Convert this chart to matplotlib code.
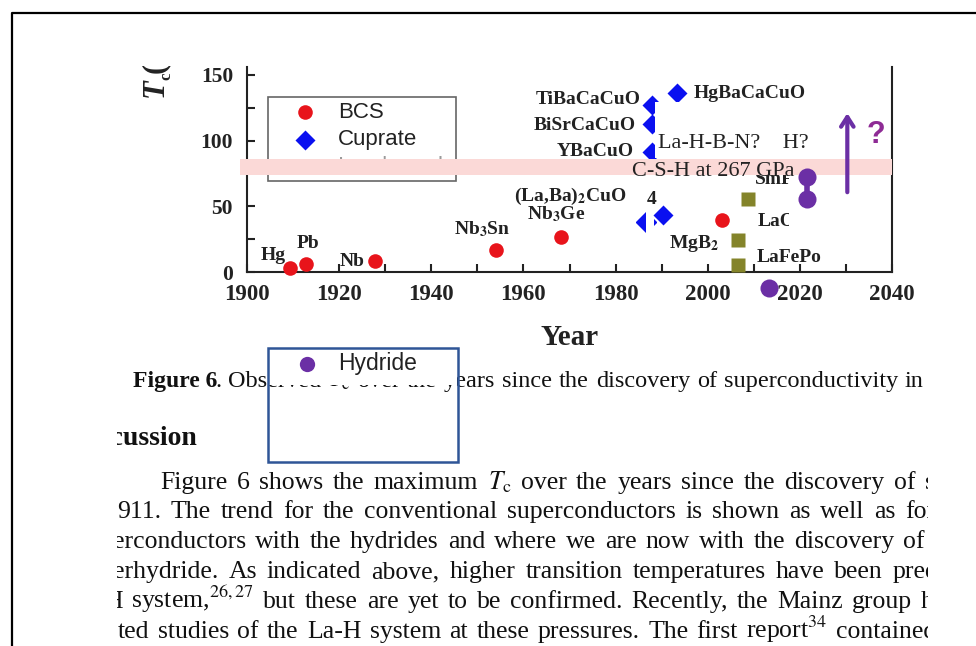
import matplotlib.pyplot as plt
from matplotlib.patches import Rectangle
from matplotlib.lines import Line2D
from matplotlib.transforms import Affine2D
from matplotlib.font_manager import FontProperties
import matplotlib.ticker as mticker

plt.rcParams['font.family'] = 'Liberation Serif'
plt.rcParams['mathtext.fontset'] = 'stix'

W, H = 976, 646

# values (year, Tc in K)
bcs_year = [1909.3, 1912.8, 1927.7, 1954.0, 1968.1, 2003.0]
bcs_tc = [3.0, 6.0, 8.4, 16.8, 26.7, 39.6]

cuprate_year = [1988.0, 1988.0, 1988.0, 1990.2, 1993.4]
cuprate_tc = [91.4, 112.7, 127.2, 43.4, 136.3]
cuprate_hidden_year = [1986.5]
cuprate_hidden_tc = [38.0]

iron_year = [2006.6, 2006.6, 2008.8]
iron_tc = [5.3, 24.4, 55.6]

hydride_year = [2013.4, 2021.6, 2021.6]
hydride_tc = [-12.0, 55.6, 72.0]

arrow_year = 2030.3
arrow_tc = (58.6, 123.0)

x_ticks = [1900, 1920, 1940, 1960, 1980, 2000, 2020, 2040]
y_ticks = [0, 50, 100, 150]

RED = '#e8141b'
BLUE = '#0a10f0'
OLIVE = '#84842a'
PURPLE = '#6b2fa5'
INK = '#222222'

fig = plt.figure(figsize=(W / 100, H / 100), dpi=100)
P = Affine2D().scale(1 / W, -1 / H).translate(0, 1) + fig.transFigure

ax = fig.add_axes([247 / W, 1 - 272 / H, (892 - 247) / W, (272 - 67) / H])
ax.set_xlim(1900, 2040)
ax.set_ylim(0, 156)
ax.spines['top'].set_visible(False)
for s in ['left', 'bottom', 'right']:
    ax.spines[s].set_linewidth(1.5)
    ax.spines[s].set_color(INK)
ax.set_xticks(x_ticks)
ax.set_yticks(y_ticks)
ax.xaxis.set_minor_locator(mticker.MultipleLocator(10))
ax.yaxis.set_minor_locator(mticker.MultipleLocator(25))
ax.tick_params(which='both', direction='in', length=6, width=1.5, color=INK)
ax.tick_params(axis='x', which='major', labelsize=16.5, pad=9)
ax.tick_params(axis='y', which='major', labelsize=15.5, pad=10)
for lab in ax.get_xticklabels() + ax.get_yticklabels():
    lab.set_fontweight('bold')
    lab.set_color(INK)
ax.set_xlabel('Year', fontsize=21, fontweight='bold', labelpad=13, color=INK)

# markers
ax.plot(cuprate_hidden_year, cuprate_hidden_tc, 'D', color=BLUE, ms=10, zorder=3, clip_on=False)
ax.plot(bcs_year, bcs_tc, 'o', color=RED, ms=10.5, mec='none', zorder=5, clip_on=False)
ax.plot(cuprate_year, cuprate_tc, 'D', color=BLUE, ms=10, mec='none', zorder=5, clip_on=False)
ax.plot(iron_year, iron_tc, 's', color=OLIVE, ms=10, mec='none', zorder=5, clip_on=False)
ax.plot(hydride_year[1:], hydride_tc[1:], '-', color=PURPLE, lw=4, zorder=9)
ax.plot(hydride_year, hydride_tc, 'o', color=PURPLE, ms=13, mec='none', zorder=9, clip_on=False)
ax.annotate('', xy=(arrow_year, arrow_tc[1]), xytext=(arrow_year, arrow_tc[0]),
            arrowprops=dict(arrowstyle='->,head_length=0.7,head_width=0.45', color=PURPLE, lw=3),
            zorder=9)


def lbl(x, y, s, size=14, ha='left', weight='bold', z=5, color=INK, **kw):
    ax.text(x, y, s, transform=P, fontsize=size, ha=ha, va='center', fontweight=weight,
            color=color, zorder=z, clip_on=False, **kw)


lbl(261, 256, 'Hg')
lbl(297, 244, 'Pb')
lbl(340, 261, 'Nb')
lbl(454, 229, r'Nb$_\mathbf{3}$Sn')
lbl(514, 196, r'(La,Ba)$_\mathbf{2}$CuO')
lbl(647, 200, '4')
lbl(527, 214, r'Nb$_\mathbf{3}$Ge')
lbl(641, 100, 'TiBaCaCuO', ha='right')
lbl(636, 126, 'BiSrCaCuO', ha='right')
lbl(634, 152, 'YBaCuO', ha='right')
lbl(694, 93, 'HgBaCaCuO')
lbl(669, 244, r'MgB$_\mathbf{2}$')
lbl(755, 179, 'SmFeAsO')
lbl(758, 222, 'LaOFeAs')
lbl(757, 257, 'LaFePo')

# white cut-outs over part of the plot
for (x0, y0, x1, y1) in [(655, 102, 838, 158), (789, 165, 840, 240), (646, 206, 654, 236)]:
    ax.add_patch(Rectangle((x0, y0), x1 - x0, y1 - y0, transform=P, facecolor='white',
                           edgecolor='none', zorder=6 if x0 != 646 else 4, clip_on=False))

lbl(658, 144, 'La-H-B-N?    H?', size=16, weight='normal', z=8)
lbl(632, 172, 'C-S-H at 267 GPa', size=16, weight='normal', z=8)
lbl(876, 135, '?', size=22, ha='center', z=9, color='#8e2b95', family='Liberation Sans')

# top-left legend
ax.add_patch(Rectangle((268, 97), 188, 84, transform=P, facecolor='white', edgecolor='#666666',
                       lw=1.2, zorder=6, clip_on=False))
ax.plot([305], [112], 'o', color=RED, ms=10.5, mec='none', transform=P, zorder=6.5, clip_on=False)
ax.plot([305], [140], 'D', color=BLUE, ms=10, mec='none', transform=P, zorder=6.5, clip_on=False)
ax.plot([297, 313], [173, 173], '-', color='#aaaaaa', lw=1.5, transform=P, zorder=6.5, clip_on=False)
for yy, s, c in [(112, 'BCS', INK), (140, 'Cuprate', INK), (167, 'Iron based', '#9a9a9a')]:
    ax.text(338, yy, s, transform=P, fontsize=16, va='center', family='Liberation Sans',
            color=c, zorder=6.5, clip_on=False)

# pink band
ax.add_patch(Rectangle((240, 159), 652, 16, transform=P, facecolor='#fbd9d7', edgecolor='none',
                       zorder=7, clip_on=False))

# y label (cropped at the top in the reference)
fig.text(163 / W, 1 - 97 / H, 'T', fontsize=22, fontweight='bold', style='italic',
         rotation=90, rotation_mode='anchor', ha='left', va='baseline', color=INK)
fig.text(170 / W, 1 - 80 / H, 'c', fontsize=12, fontweight='bold',
         rotation=90, rotation_mode='anchor', ha='left', va='baseline', color=INK)
fig.text(163 / W, 1 - 73 / H, '(', fontsize=22, fontweight='bold',
         rotation=90, rotation_mode='anchor', ha='left', va='baseline', color=INK)
fig.add_artist(Rectangle((125, 15), 80, 51, transform=P, facecolor='white', edgecolor='none', zorder=4))

# page text below the chart, justified word by word
tax = fig.add_axes([117 / W, 0, (928 - 117) / W, 1 - 355 / H])
tax.axis('off')
renderer = fig.canvas.get_renderer()


def word_w(s, size, weight):
    fp = FontProperties(family='Liberation Serif', size=size, weight=weight)
    w, _, _ = renderer.get_text_width_height_descent(s, fp, ismath='$' in s)
    return w


def justified(x0, y, text, anchor, anchor_x, size=18.5, weight='normal'):
    # anchor: index of the word whose left edge should sit at anchor_x
    words = text.split(' ')
    widths = [word_w(wd, size, weight) for wd in words]
    gap = (anchor_x - x0 - sum(widths[:anchor])) / anchor
    x = x0
    for wd, w in zip(words, widths):
        tax.text(x, y, wd, transform=P, fontsize=size, fontweight=weight, va='baseline',
                 ha='left', color='#111111', clip_on=True)
        x += w + gap


TC = r'$T_\mathrm{c}$'

tax.text(133, 387, 'Figure 6', transform=P, fontsize=17, fontweight='bold', va='baseline',
         color='#111111', clip_on=True)
justified(215, 387, '. Observed ' + TC + ' over the years since the discovery of superconductivity in the',
          11, 905, size=17.5)
tax.text(197, 445, 'Discussion', transform=P, fontsize=20, fontweight='bold', va='baseline',
         ha='right', color='#111111', clip_on=True)

justified(160, 489, 'Figure 6 shows the maximum ' + TC + ' over the years since the discovery of superconductivity',
          12, 894)
justified(117, 518, '911. The trend for the conventional superconductors is shown as well as for the',
          12, 905)
justified(113, 548, 'erconductors with the hydrides and where we are now with the discovery of the',
          12, 903)
justified(113, 578, 'erhydride. As indicated above, higher transition temperatures have been predicted',
          9, 893)
justified(104, 608, r'H system,$^{26,27}$ but these are yet to be confirmed. Recently, the Mainz group has',
          13, 921)
justified(118, 638, r'ted studies of the La-H system at these pressures. The first report$^{34}$ contained',
          12, 836)

# hydride legend box
fig.add_artist(Rectangle((269, 349), 188, 36, transform=P, facecolor='white', edgecolor='none', zorder=5))
fig.add_artist(Rectangle((268, 348), 190, 114, transform=P, facecolor='none', edgecolor='#2f5597',
                         lw=1.8, zorder=6))
fig.add_artist(Line2D([307], [364], marker='o', color=PURPLE, ms=11, mec='none', transform=P, zorder=6))
fig.text(338 / W, 1 - 364 / H, 'Hydride', fontsize=16.5, va='center', family='Liberation Sans',
         color=INK, zorder=6)

# outer frame
fig.add_artist(Line2D([12, 12, W], [H, 13, 13], color='black', lw=1.6, transform=P, zorder=10))

fig.savefig('out.png', dpi=100)
